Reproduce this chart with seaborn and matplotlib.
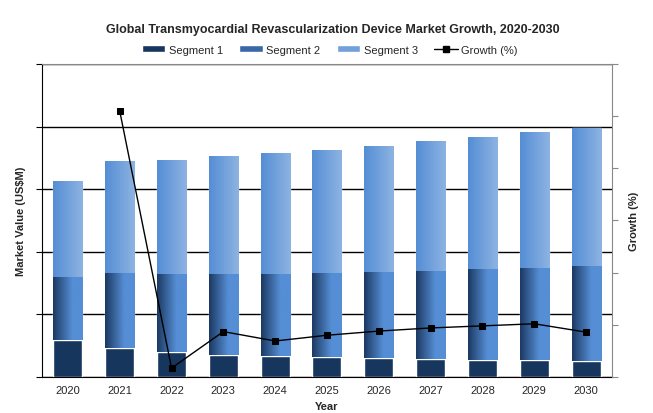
import matplotlib.pyplot as plt
import matplotlib.colors as mcolors
import seaborn as sns
import numpy as np
import pandas as pd
from matplotlib.lines import Line2D
from matplotlib.patches import Patch

sns.set_style('white')
plt.rcParams['font.family'] = ['Liberation Sans', 'DejaVu Sans']

years = ['2020', '2021', '2022', '2023', '2024', '2025', '2026', '2027', '2028', '2029', '2030']
segment_1 = [29.5, 23.2, 20.2, 17.6, 16.8, 16.0, 15.2, 14.6, 13.6, 13.6, 12.8]
segment_2 = [50.4, 59.9, 62.1, 64.7, 65.5, 67.1, 68.7, 70.1, 72.7, 73.5, 75.9]
segment_3 = [76.6, 89.4, 91.0, 94.2, 96.6, 98.2, 100.6, 103.8, 105.4, 108.6, 110.2]
growth_years = ['2021', '2022', '2023', '2024', '2025', '2026', '2027', '2028', '2029', '2030']
growth_pct = [10.2, 0.34, 1.74, 1.38, 1.6, 1.76, 1.88, 1.96, 2.04, 1.72]

df = pd.DataFrame({'year': years, 's1': segment_1, 's2': segment_2, 's3': segment_3})
df['c2'] = df['s1'] + df['s2']
df['c3'] = df['c2'] + df['s3']
gdf = pd.DataFrame({'pos': [years.index(y) for y in growth_years], 'growth': growth_pct})

c_dark = '#17365d'
c_mid = '#558ed5'
c_light = '#8db3e2'


def gradient_fill(ax, patches, left, right, hold=1.0):
    cmap = mcolors.LinearSegmentedColormap.from_list(
        'g', [(0, left), (hold, right), (1, right)])
    grad = np.linspace(0, 1, 64).reshape(1, -1)
    for p in patches:
        x0, y0 = p.get_x(), p.get_y()
        w, h = p.get_width(), p.get_height()
        im = ax.imshow(grad, extent=[x0, x0 + w, y0, y0 + h], aspect='auto',
                       cmap=cmap, origin='lower', zorder=p.get_zorder() + 0.1)
        im.set_clip_path(p)


fig = plt.figure(figsize=(6.53, 4.14), dpi=100)
ax = fig.add_axes([0.0643, 0.087, 0.8729, 0.756])

sns.barplot(data=df, x='year', y='c3', color=c_mid, saturation=1, width=0.56, ax=ax)
n = len(years)
top_patches = list(ax.patches[:n])
sns.barplot(data=df, x='year', y='c2', color=c_mid, saturation=1, width=0.56, ax=ax)
mid_patches = list(ax.patches[n:2 * n])
sns.barplot(data=df, x='year', y='s1', color=c_dark, saturation=1, width=0.56, ax=ax)

# segment 2 / 3 patches start at their own bottoms
for p, base in zip(top_patches, df['c2']):
    p.set_height(p.get_height() - base)
    p.set_y(base)
for p, base in zip(mid_patches, df['s1']):
    p.set_height(p.get_height() - base)
    p.set_y(base)

gradient_fill(ax, top_patches, c_mid, c_light)
gradient_fill(ax, mid_patches, '#1c3a63', c_mid, hold=0.65)

ax.set_xlim(-0.5, n - 0.5)
ax.set_ylim(0, 250)
ax.set_yticks(np.arange(0, 251, 50))
ax.set_yticklabels([])
ax.yaxis.grid(True, color='black', linewidth=1)
ax.set_axisbelow(True)
ax.set_xticks(range(n))
ax.set_xticklabels(years, fontsize=8)
ax.set_xticks(np.arange(-0.5, n, 1), minor=True)
ax.tick_params(axis='x', which='major', length=0, pad=6)
ax.tick_params(axis='x', which='minor', length=4, direction='out', color='black')
ax.tick_params(axis='y', length=4, direction='out', color='black', left=True)
for side in ['left', 'bottom']:
    ax.spines[side].set_color('black')
ax.spines['top'].set_color('#888888')
ax.spines['right'].set_visible(False)
ax.set_xlabel('Year', fontsize=8, fontweight='bold', labelpad=4)
ax.set_ylabel('Market Value (US$M)', fontsize=8, fontweight='bold', labelpad=4)

ax2 = ax.twinx()
sns.lineplot(data=gdf, x='pos', y='growth', color='black', linewidth=1,
             marker='s', markersize=5, markeredgecolor='black', ax=ax2)
ax2.set_ylim(0, 12)
ax2.set_yticks(np.arange(0, 13, 2))
ax2.set_yticklabels([])
ax2.tick_params(axis='y', length=4, direction='out', color='#888888', right=True)
ax2.spines['right'].set_color('#888888')
ax2.spines['top'].set_visible(False)
ax2.spines['left'].set_visible(False)
ax2.spines['bottom'].set_visible(False)
ax2.set_ylabel('Growth (%)', fontsize=8, fontweight='bold', labelpad=5)
ax2.set_xlabel('')
ax2.set_xlim(-0.5, n - 0.5)

handles = [
    Patch(facecolor=c_dark, label='Segment 1'),
    Patch(facecolor='#3a68a6', label='Segment 2'),
    Patch(facecolor='#71a0dc', label='Segment 3'),
    Line2D([0], [0], color='black', linewidth=1, marker='s', markersize=4, label='Growth (%)'),
]
fig.legend(handles=handles, loc='center', bbox_to_anchor=(0.505, 0.878), ncol=4,
           frameon=False, fontsize=8, handlelength=2.1, handleheight=0.5,
           columnspacing=1.5, handletextpad=0.3)
fig.suptitle('Global Transmyocardial Revascularization Device Market Growth, 2020-2030',
             x=0.51, y=0.943, fontsize=9, fontweight='bold')

fig.savefig('out.png', dpi=100)
